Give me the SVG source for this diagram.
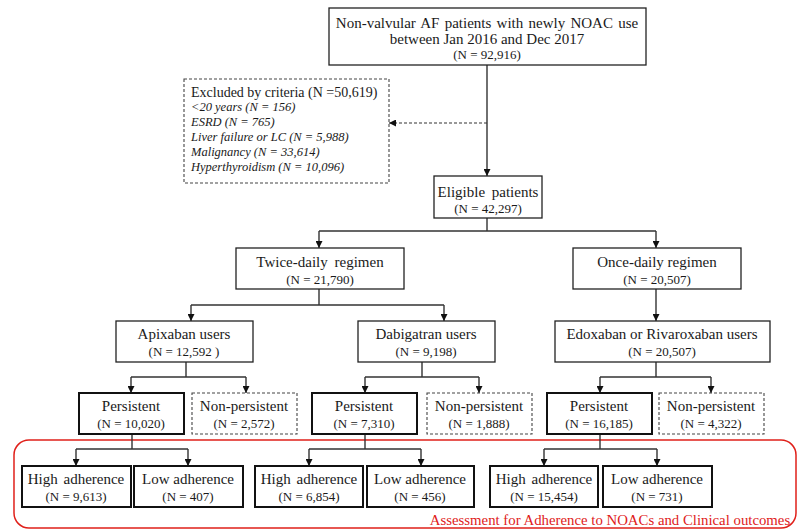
<svg xmlns="http://www.w3.org/2000/svg" width="797" height="529" viewBox="0 0 797 529">
<defs>
<style>
text{font-family:"Liberation Serif","Times New Roman",serif;fill:#1a1a1a;text-anchor:middle}
.t{font-size:15px}
.n{font-size:13px}
.i{font-size:12.5px;font-style:italic;text-anchor:start}
.h{font-size:14px;text-anchor:start}
.box{fill:#fff;stroke:#222;stroke-width:1.3}
.bold{fill:#fff;stroke:#111;stroke-width:2}
.dash{fill:#fff;stroke:#444;stroke-width:1.1;stroke-dasharray:3 2}
.c{fill:none;stroke:#333;stroke-width:1.4}
.cd{fill:none;stroke:#333;stroke-width:1.2;stroke-dasharray:3 2}
.red{fill:none;stroke:#e0201a;stroke-width:1.5}
.rt{font-size:14.8px;fill:#e0201a}
</style>
<marker id="ah" viewBox="0 0 8 8" refX="8" refY="4" markerWidth="7" markerHeight="7" markerUnits="userSpaceOnUse" orient="auto">
<path d="M0,0 L8,4 L0,8 z" fill="#111"/>
</marker>
</defs>

<rect class="red" x="14" y="440" width="782" height="88" rx="15"/>

<g id="connectors">
<path class="c" d="M487,65 V176" marker-end="url(#ah)"/>
<path class="cd" d="M487,123 H389" marker-end="url(#ah)"/>
<path class="c" d="M487,218 V231 M319,231 H656"/>
<path class="c" d="M319,231 V248" marker-end="url(#ah)"/>
<path class="c" d="M656,231 V248" marker-end="url(#ah)"/>
<path class="c" d="M319,289 V305 M191,305 H444"/>
<path class="c" d="M191,305 V321" marker-end="url(#ah)"/>
<path class="c" d="M444,305 V321" marker-end="url(#ah)"/>
<path class="c" d="M656,289 V321" marker-end="url(#ah)"/>
<path class="c" d="M186,362 V377 M131,377 H246"/>
<path class="c" d="M131,377 V393" marker-end="url(#ah)"/>
<path class="c" d="M246,377 V393" marker-end="url(#ah)"/>
<path class="c" d="M422,362 V377 M365,377 H479"/>
<path class="c" d="M365,377 V393" marker-end="url(#ah)"/>
<path class="c" d="M479,377 V393" marker-end="url(#ah)"/>
<path class="c" d="M656,362 V377 M600,377 H711"/>
<path class="c" d="M600,377 V393" marker-end="url(#ah)"/>
<path class="c" d="M711,377 V393" marker-end="url(#ah)"/>
<path class="c" d="M132,434 V449 M76,449 H188"/>
<path class="c" d="M76,449 V466" marker-end="url(#ah)"/>
<path class="c" d="M188,449 V466" marker-end="url(#ah)"/>
<path class="c" d="M365,434 V449 M309,449 H421"/>
<path class="c" d="M309,449 V466" marker-end="url(#ah)"/>
<path class="c" d="M421,449 V466" marker-end="url(#ah)"/>
<path class="c" d="M600,434 V449 M544,449 H657"/>
<path class="c" d="M544,449 V466" marker-end="url(#ah)"/>
<path class="c" d="M657,449 V466" marker-end="url(#ah)"/>
</g>

<g id="start">
<rect class="box" x="329" y="8" width="317" height="57"/>
<text class="t" x="487" y="28" word-spacing="1.5">Non-valvular AF patients with newly NOAC use</text>
<text class="t" x="487" y="44">between Jan 2016 and Dec 2017</text>
<text class="n" x="487" y="59">(N = 92,916)</text>
</g>

<g id="excluded">
<rect class="dash" x="184" y="79" width="205" height="104"/>
<text class="h" x="191" y="96.5">Excluded by criteria  (N =50,619)</text>
<text class="i" x="191" y="111">&lt;20 years (N = 156)</text>
<text class="i" x="191" y="126">ESRD (N = 765)</text>
<text class="i" x="191" y="141">Liver failure or LC (N = 5,988)</text>
<text class="i" x="191" y="156">Malignancy  (N = 33,614)</text>
<text class="i" x="191" y="171">Hyperthyroidism  (N = 10,096)</text>
</g>

<g id="eligible">
<rect class="box" x="434" y="176" width="108" height="42"/>
<text class="t" x="488" y="197" word-spacing="3">Eligible patients</text>
<text class="n" x="488" y="212.5">(N = 42,297)</text>
</g>

<g id="twice">
<rect class="box" x="236" y="248" width="168" height="41"/>
<text class="t" x="320" y="267" word-spacing="3">Twice-daily regimen</text>
<text class="n" x="320" y="283.5">(N = 21,790)</text>
</g>

<g id="once">
<rect class="box" x="573" y="248" width="168" height="41"/>
<text class="t" x="657" y="267">Once-daily regimen</text>
<text class="n" x="657" y="283.5">(N = 20,507)</text>
</g>

<g id="apixaban">
<rect class="box" x="116" y="321" width="137" height="41"/>
<text class="t" x="184" y="339">Apixaban users</text>
<text class="n" x="184" y="355.5">(N = 12,592  )</text>
</g>

<g id="dabigatran">
<rect class="box" x="358" y="321" width="137" height="41"/>
<text class="t" x="426" y="339">Dabigatran users</text>
<text class="n" x="426" y="355.5">(N = 9,198)</text>
</g>

<g id="edoxaban">
<rect class="box" x="555" y="321" width="215" height="41"/>
<text class="t" x="662" y="339">Edoxaban or Rivaroxaban  users</text>
<text class="n" x="662" y="355.5">(N = 20,507)</text>
</g>

<g id="pers1">
<rect class="bold" x="79" y="393" width="105" height="41"/>
<text class="t" x="131" y="411">Persistent</text>
<text class="n" x="131" y="427.5">(N = 10,020)</text>
</g>
<g id="nonpers1">
<rect class="dash" x="192" y="393" width="105" height="41"/>
<text class="t" x="244" y="411">Non-persistent</text>
<text class="n" x="244" y="427.5">(N = 2,572)</text>
</g>
<g id="pers2">
<rect class="bold" x="312" y="393" width="105" height="41"/>
<text class="t" x="364" y="411">Persistent</text>
<text class="n" x="364" y="427.5">(N = 7,310)</text>
</g>
<g id="nonpers2">
<rect class="dash" x="427" y="393" width="105" height="41"/>
<text class="t" x="479" y="411">Non-persistent</text>
<text class="n" x="479" y="427.5">(N = 1,888)</text>
</g>
<g id="pers3">
<rect class="bold" x="547" y="393" width="105" height="41"/>
<text class="t" x="599" y="411">Persistent</text>
<text class="n" x="599" y="427.5">(N = 16,185)</text>
</g>
<g id="nonpers3">
<rect class="dash" x="659" y="393" width="105" height="41"/>
<text class="t" x="711" y="411">Non-persistent</text>
<text class="n" x="711" y="427.5">(N = 4,322)</text>
</g>

<g id="high1">
<rect class="bold" x="22" y="466" width="109" height="41"/>
<text class="t" x="76" y="484" word-spacing="2">High adherence</text>
<text class="n" x="76" y="500.5">(N = 9,613)</text>
</g>
<g id="low1">
<rect class="bold" x="134" y="466" width="109" height="41"/>
<text class="t" x="188" y="484">Low adherence</text>
<text class="n" x="188" y="500.5">(N = 407)</text>
</g>
<g id="high2">
<rect class="bold" x="255" y="466" width="108" height="41"/>
<text class="t" x="309" y="484" word-spacing="2">High adherence</text>
<text class="n" x="309" y="500.5">(N = 6,854)</text>
</g>
<g id="low2">
<rect class="bold" x="367" y="466" width="107" height="41"/>
<text class="t" x="420" y="484">Low adherence</text>
<text class="n" x="420" y="500.5">(N = 456)</text>
</g>
<g id="high3">
<rect class="bold" x="490" y="466" width="108" height="41"/>
<text class="t" x="544" y="484" word-spacing="2">High adherence</text>
<text class="n" x="544" y="500.5">(N = 15,454)</text>
</g>
<g id="low3">
<rect class="bold" x="603" y="466" width="109" height="41"/>
<text class="t" x="657" y="484">Low adherence</text>
<text class="n" x="657" y="500.5">(N = 731)</text>
</g>

<g id="assessment">
<text class="rt" x="610" y="525">Assessment for Adherence to NOACs and Clinical  outcomes</text>
</g>
</svg>
